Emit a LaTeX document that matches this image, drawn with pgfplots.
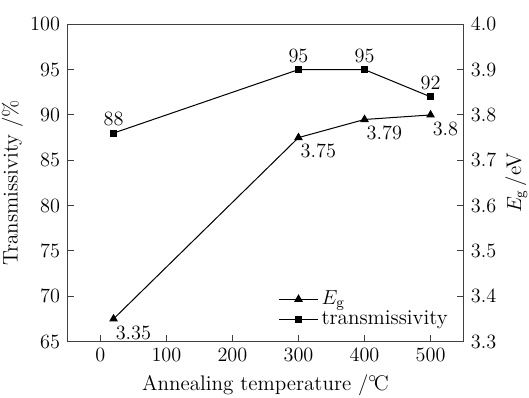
\documentclass[border=0pt]{standalone}
\usepackage{fontspec}
\usepackage{pgfplots}
\pgfplotsset{compat=1.18}
\begin{document}
\fontsize{12.5pt}{15pt}\selectfont
\begin{tikzpicture}
\pgfplotsset{
  every axis/.append style={
    scale only axis, width=234.6pt, height=187.8pt,
    xmin=-50, xmax=550,
    axis line style={black!75, line width=0.7pt},
    tick style={black!75, line width=0.6pt},
    tick align=inside,
    major tick length=4pt,
    tick label style={font=\fontsize{12.5pt}{15pt}\selectfont},
    label style={font=\fontsize{12.5pt}{15pt}\selectfont},
  }
}
\begin{axis}[name=a1,
  ymin=65, ymax=100,
  ytick={65,70,...,100},
  xtick={0,100,...,500},
  xtick pos=bottom, ytick pos=left,
  xlabel={Annealing temperature /${}^{\circ}\!$C},
  ylabel={Transmissivity /\%},
  xlabel style={yshift=-2pt, inner sep=1pt},
  ylabel style={yshift=-1pt, inner sep=1pt},
]
\addplot[black, line width=0.6pt, mark=square*, mark size=1.8pt,
  nodes near coords,
  every node near coord/.append style={anchor=south, inner sep=0pt, yshift=4pt, font=\fontsize{12.5pt}{15pt}\selectfont}]
  coordinates {(20,88) (300,95) (400,95) (500,92)};
\end{axis}
\begin{axis}[
  ymin=3.3, ymax=4.0,
  ytick={3.3,3.4,...,4.0},
  axis y line*=right,
  axis x line=none,
  ytick pos=right,
  yticklabel style={/pgf/number format/fixed, /pgf/number format/precision=1, /pgf/number format/fixed zerofill},
  ylabel={$E_{\mathrm{g}}$\,/eV},
  ylabel style={inner sep=1pt},
  legend style={draw=none, fill=none, at={(0.52,0.02)}, anchor=south west, font=\fontsize{12.5pt}{15pt}\selectfont, row sep=-2pt},
  legend cell align=left,
  legend image code/.code={\draw[mark repeat=2, mark phase=2] plot coordinates {(0cm,0cm) (0.4cm,0cm) (0.8cm,0cm)};},
]
\addplot[black, line width=0.6pt, mark=triangle*, mark size=2.4pt,
  nodes near coords,
  every node near coord/.append style={anchor=north west, inner sep=0pt, xshift=1pt, yshift=-4pt, font=\fontsize{12.5pt}{15pt}\selectfont}]
  coordinates {(20,3.35) (300,3.75) (400,3.79) (500,3.8)};
\addlegendentry{$E_{\mathrm{g}}$}
\addlegendimage{black, line width=0.6pt, mark=square*, mark size=1.8pt}
\addlegendentry{transmissivity}
\end{axis}
\path (a1.north) ++(0,14.4pt) coordinate (top);
\end{tikzpicture}
\end{document}
